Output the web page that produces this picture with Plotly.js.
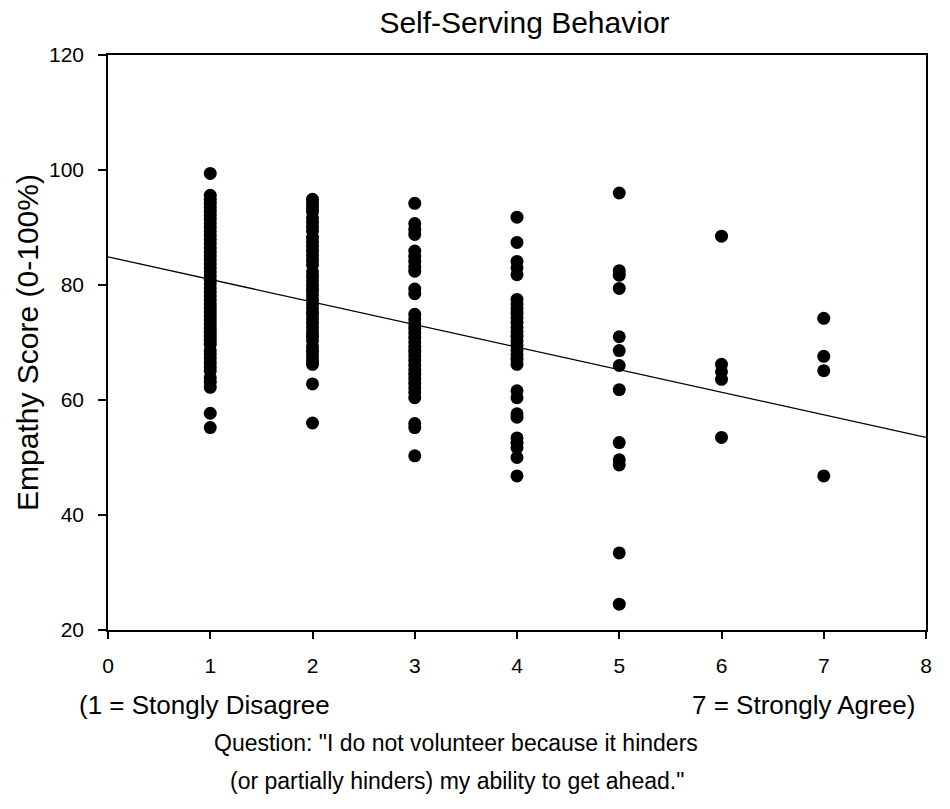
<!DOCTYPE html>
<html>
<head>
<meta charset="utf-8">
<script src="https://cdn.plot.ly/plotly-3.0.1.min.js"></script>
<style>
html,body{margin:0;padding:0;background:#fff;}
#chart{width:950px;height:809px;}
</style>
</head>
<body>
<div id="chart"></div>
<script>
// Empathy scores (1 = strongly disagree ... 7 = strongly agree)
var resp1 = [99.4, 95.6, 94.9, 94.2, 93.5, 92.8, 92.1, 91.4, 90.7, 90.0, 89.3, 88.6, 87.9, 87.2, 86.5,
  85.8, 85.1, 84.4, 83.7, 83.0, 82.3, 81.6, 80.9, 80.2, 79.5, 78.8, 78.1, 77.4, 76.7, 76.0, 75.3,
  74.6, 73.9, 73.2, 72.5, 71.8, 71.1, 70.4, 69.7, 68.6, 67.9, 67.2, 66.5, 65.8, 65.1, 63.9, 63.1,
  62.2, 57.7, 55.2];
var resp2 = [94.9, 94.2, 93.5, 92.8, 91.7, 90.9, 90.1, 89.4, 88.3, 87.5, 86.7, 85.9, 85.1, 84.3, 83.5,
  82.3, 81.5, 80.7, 79.9, 79.1, 78.3, 77.5, 76.7, 75.9, 75.1, 74.3, 73.5, 72.7, 71.9, 71.1, 70.3,
  69.3, 68.5, 67.7, 66.9, 66.2, 62.8, 56.0];
var resp3 = [94.2, 90.7, 89.7, 88.8, 85.9, 85.0, 84.1, 83.2, 82.4, 79.3, 78.5, 74.9, 74.1, 73.3, 72.5,
  71.7, 70.9, 70.1, 69.3, 68.5, 67.7, 66.9, 66.1, 65.3, 64.5, 63.7, 62.9, 62.1, 61.3, 60.4,
  55.9, 55.2, 50.3];
var resp4 = [91.8, 87.4, 84.1, 83.0, 81.8, 77.5, 76.7, 75.9, 75.1, 74.3, 73.5, 72.7, 71.9, 71.1, 70.3,
  69.5, 68.7, 67.9, 67.1, 66.2, 61.6, 60.4, 57.6, 57.0, 53.4, 52.5, 51.7, 50.0, 46.8];
var resp5 = [96.0, 82.5, 81.7, 79.4, 71.0, 68.6, 66.0, 61.8, 52.6, 49.6, 48.7, 33.4, 24.5];
var resp6 = [88.5, 66.2, 64.9, 63.6, 53.5];
var resp7 = [74.2, 67.6, 65.1, 46.8];

var responseLevels = [1, 2, 3, 4, 5, 6, 7];
var scoreColumns = [resp1, resp2, resp3, resp4, resp5, resp6, resp7];

// Fitted regression line (as drawn in the reference)
var fitIntercept = 84.9;
var fitSlope = -3.925;
var fitRange = [0, 8];

var xTickVals = [0, 1, 2, 3, 4, 5, 6, 7, 8];
var yTickVals = [20, 40, 60, 80, 100, 120];

var titleText = 'Self-Serving Behavior';
var yTitleText = 'Empathy Score (0-100%)';
var leftNote = '(1 = Stongly Disagree';
var rightNote = '7 = Strongly Agree)';
var questionLine1 = 'Question: "I do not volunteer because it hinders';
var questionLine2 = '(or partially hinders) my ability to get ahead."';

var xs = [], ys = [];
scoreColumns.forEach(function (col, i) {
  col.forEach(function (v) { xs.push(responseLevels[i]); ys.push(v); });
});

var FONT = '"Liberation Sans", Arial, Helvetica, sans-serif';

var traces = [
  {
    type: 'scatter', mode: 'markers', x: xs, y: ys,
    marker: { color: '#000', size: 13, line: { width: 0 } },
    hoverinfo: 'x+y', showlegend: false
  },
  {
    type: 'scatter', mode: 'lines',
    x: fitRange,
    y: fitRange.map(function (x) { return fitIntercept + fitSlope * x; }),
    line: { color: '#000', width: 1.3 },
    hoverinfo: 'skip', showlegend: false
  }
];

var W = 950, H = 809, L = 108, R = 24, T = 55, B = 179;
var pw = W - L - R, ph = H - T - B;
function px(x) { return (x - L) / pw; }
function py(y) { return (H - B - y) / ph; }

var layout = {
  width: W, height: H,
  margin: { l: L, r: R, t: T, b: B, pad: 0 },
  paper_bgcolor: '#fff', plot_bgcolor: '#fff',
  font: { family: FONT, color: '#000', size: 20 },
  title: {
    text: titleText,
    font: { family: FONT, size: 30, color: '#000' },
    xref: 'paper', x: px(524.5), xanchor: 'center',
    yref: 'container', y: 1 - 22 / H, yanchor: 'middle'
  },
  xaxis: {
    range: [0, 8], tickvals: xTickVals, ticktext: xTickVals.map(String),
    showgrid: false, zeroline: false,
    showline: true, linecolor: '#000', linewidth: 1.5, mirror: true,
    ticks: 'outside', ticklen: 7, tickwidth: 1.5, tickcolor: '#000',
    tickfont: { family: FONT, size: 21, color: '#000' },
    ticklabelstandoff: 9,
    fixedrange: true
  },
  yaxis: {
    range: [20, 120], tickvals: yTickVals, ticktext: yTickVals.map(String),
    showgrid: false, zeroline: false,
    showline: true, linecolor: '#000', linewidth: 1.5, mirror: true,
    ticks: 'outside', ticklen: 8, tickwidth: 1.5, tickcolor: '#000',
    tickfont: { family: FONT, size: 21, color: '#000' },
    ticklabelstandoff: 10,
    title: { text: yTitleText, font: { family: FONT, size: 30, color: '#000' }, standoff: 2 },
    fixedrange: true
  },
  annotations: [
    { text: leftNote, xref: 'paper', yref: 'paper', x: px(77), y: py(705),
      xanchor: 'left', yanchor: 'middle', showarrow: false,
      font: { family: FONT, size: 26, color: '#000' } },
    { text: rightNote, xref: 'paper', yref: 'paper', x: px(917), y: py(705),
      xanchor: 'right', yanchor: 'middle', showarrow: false,
      font: { family: FONT, size: 26, color: '#000' } },
    { text: questionLine1, xref: 'paper', yref: 'paper', x: px(456), y: py(743),
      xanchor: 'center', yanchor: 'middle', showarrow: false,
      font: { family: FONT, size: 23, color: '#000' } },
    { text: questionLine2, xref: 'paper', yref: 'paper', x: px(457), y: py(781),
      xanchor: 'center', yanchor: 'middle', showarrow: false,
      font: { family: FONT, size: 23, color: '#000' } }
  ]
};

Plotly.newPlot('chart', traces, layout, { displayModeBar: false, staticPlot: false });
</script>
</body>
</html>
